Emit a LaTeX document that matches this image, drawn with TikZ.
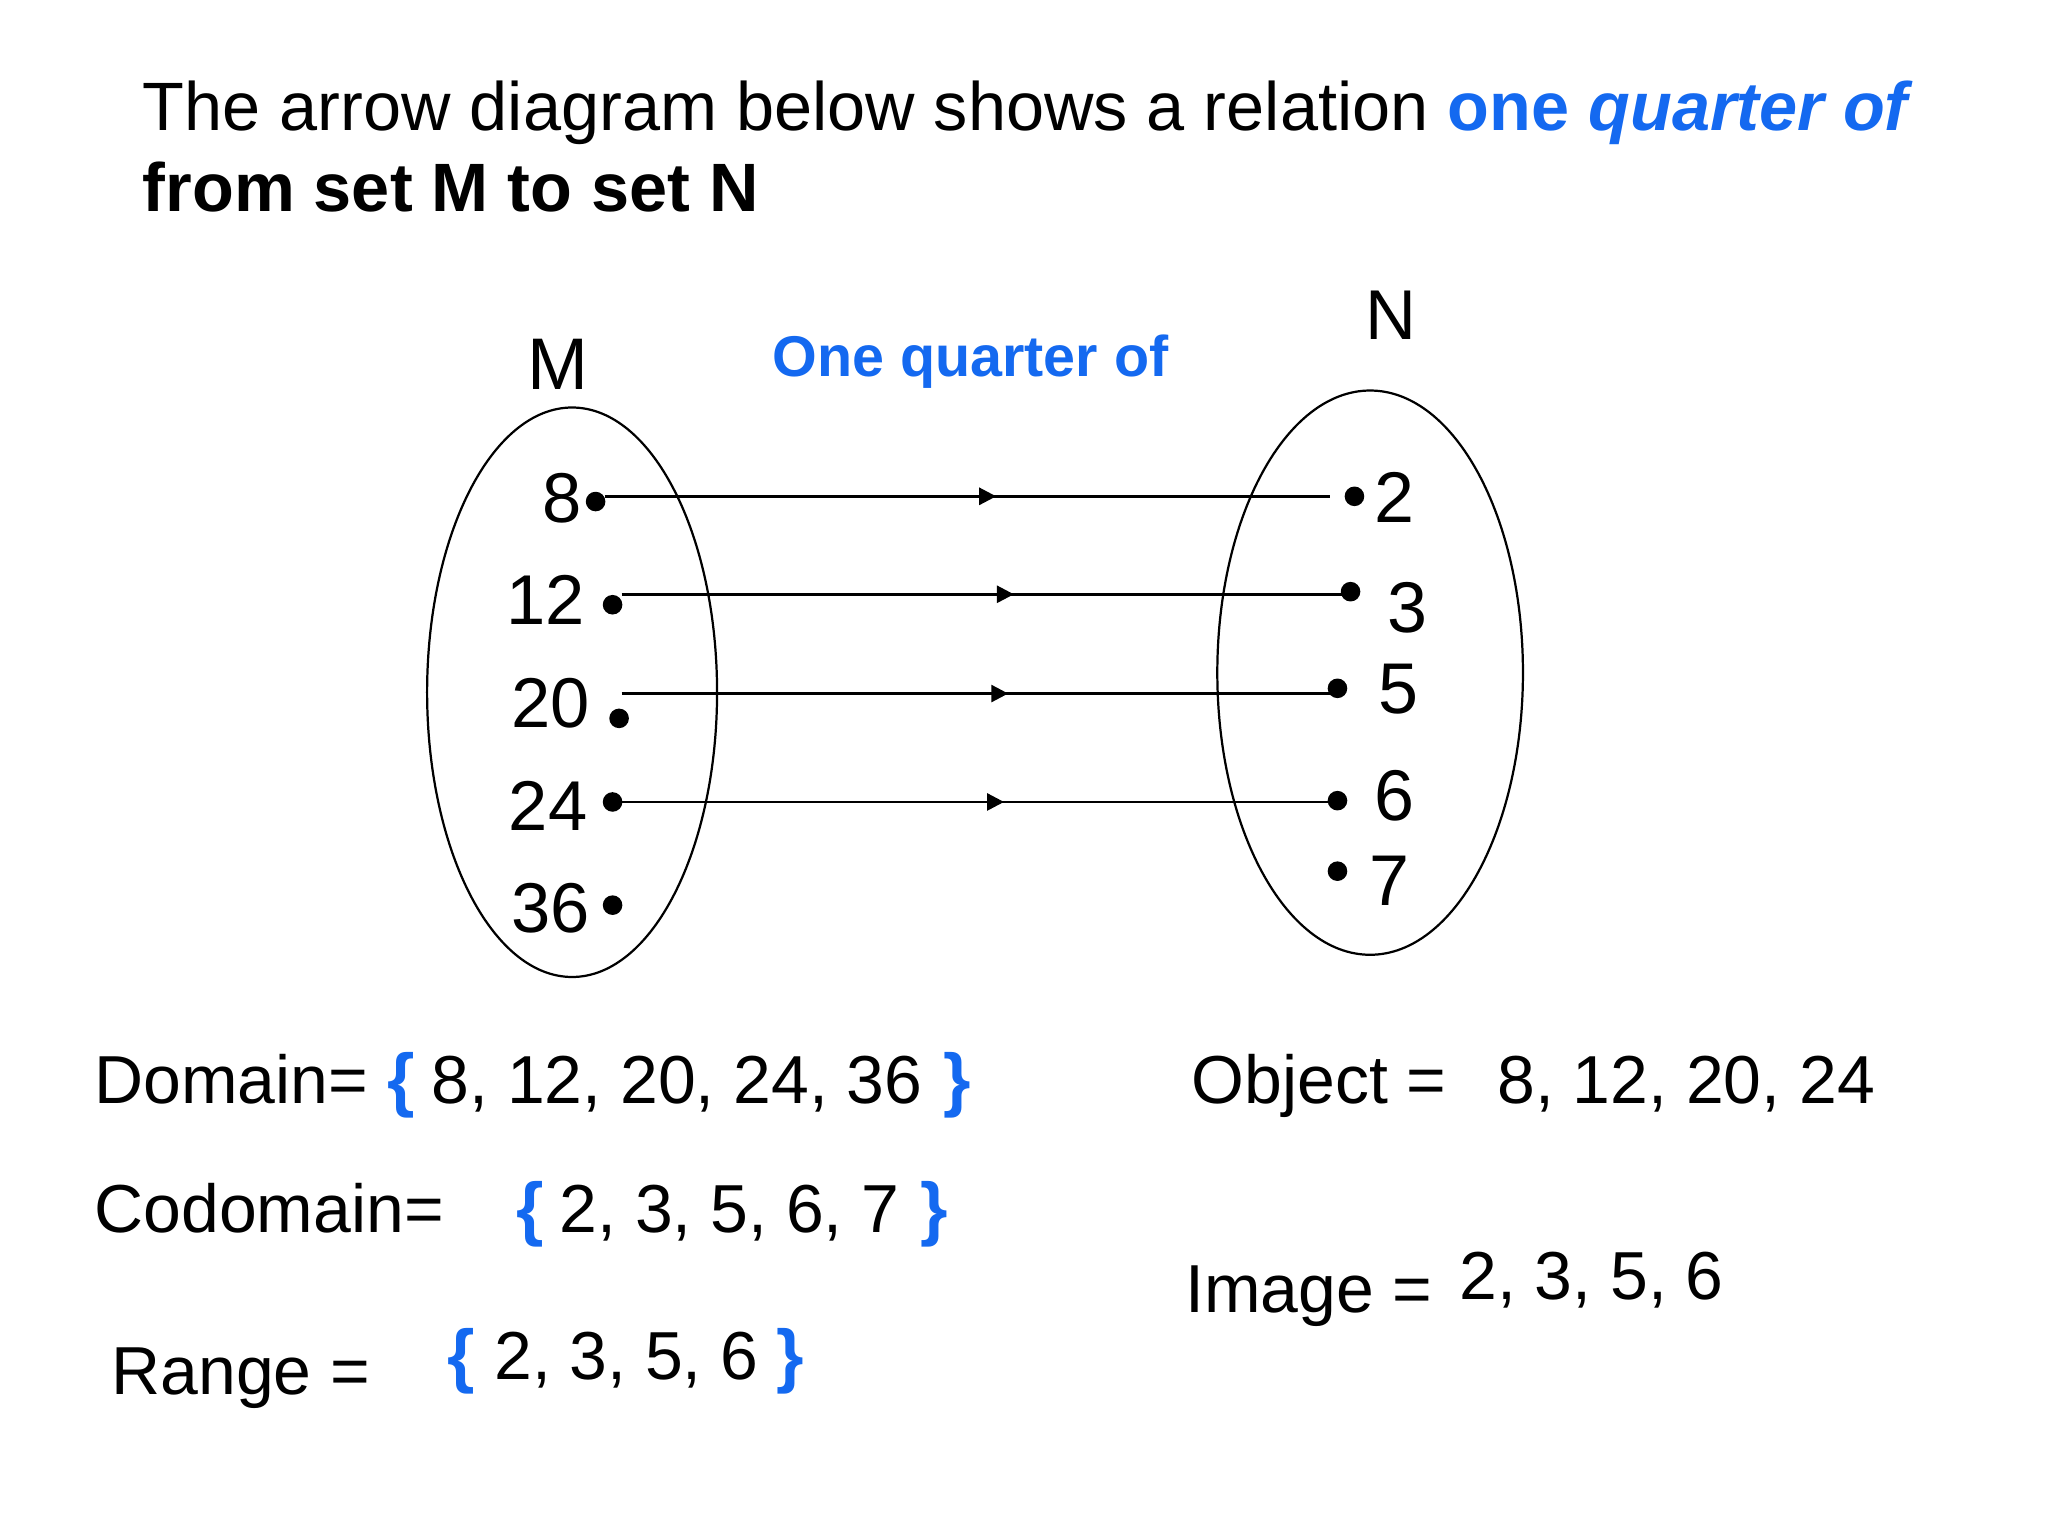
\documentclass[tikz,border=0pt]{standalone}
\usepackage{fontspec}
\setmainfont{Liberation Sans}
\usetikzlibrary{arrows.meta,decorations.markings}
\definecolor{qblue}{RGB}{20,105,240}
\begin{document}
\begin{tikzpicture}[x=0.5pt,y=-0.5pt,
  txt/.style={inner sep=0pt, anchor=base west, font=\fontsize{26}{32}\selectfont},
  numl/.style={inner sep=0pt, anchor=base east, font=\fontsize{27}{32}\selectfont},
  numr/.style={inner sep=0pt, anchor=base west, font=\fontsize{27.5}{32}\selectfont},
  brace/.style={inner sep=0pt, anchor=base west, text=qblue, font=\fontsize{27}{32}\selectfont\bfseries},
  dotn/.style={circle, fill=black, inner sep=0pt, minimum size=7.5pt},
  setell/.style={draw, line width=0.85pt},
  maparrow/.style={line width=1.1pt, postaction={decorate},
    decoration={markings, mark=at position 0.54 with {\arrow{Triangle[length=6.5pt,width=6.5pt]}}}}
]
\useasboundingbox (0,0) rectangle (1568,1176);
\fill[white] (0,0) rectangle (1568,1176);

% title
\node[txt, font=\fontsize{26.2}{32}\selectfont] (t1) at (109,100) {The arrow diagram below shows a relation \textcolor{qblue}{\bfseries one \itshape quarter of}};
\node[txt, font=\fontsize{26.2}{32}\selectfont\bfseries] (t2) at (109,162) {from set M to set N};

% set names
\node[inner sep=0pt, anchor=base, font=\fontsize{28}{32}\selectfont] (Mlab) at (427,298) {M};
\node[inner sep=0pt, anchor=base, font=\fontsize{27}{32}\selectfont] (Nlab) at (1065,260) {N};
\node[inner sep=0pt, anchor=base west, text=qblue, font=\fontsize{22}{28}\selectfont\bfseries] (rel) at (591,288) {One quarter of};

% ellipses
\draw[setell] (438,530) ellipse [x radius=55.5pt, y radius=109pt];
\draw[setell] (1049,515) ellipse [x radius=58.5pt, y radius=108pt];

% left elements
\node[numl] (l8) at (446,400) {8};
\node[numl] (l12) at (448,478) {12};
\node[numl] (l20) at (452,557) {20};
\node[numl] (l24) at (450,636) {24};
\node[numl] (l36) at (452,714) {36};
\node[dotn] (m8) at (456,384) {};
\node[dotn] (m12) at (469,463) {};
\node[dotn] (m20) at (474,550) {};
\node[dotn] (m24) at (469,614) {};
\node[dotn] (m36) at (469,693) {};

% right elements
\node[numr] (r2) at (1052,400) {2};
\node[numr] (r3) at (1062,484) {3};
\node[numr] (r5) at (1055,546) {5};
\node[numr] (r6) at (1052,628) {6};
\node[numr] (r7) at (1048,693) {7};
\node[dotn] (n2) at (1037,380) {};
\node[dotn] (n3) at (1034,453) {};
\node[dotn] (n5) at (1024,527) {};
\node[dotn] (n6) at (1024,613) {};
\node[dotn] (n7) at (1024,667) {};

% connectors
\coordinate (s1) at (463,380);
\coordinate (e1) at (1018,380);
\coordinate (s2) at (476,455);
\coordinate (e2) at (1032,455);
\coordinate (s3) at (476,531);
\coordinate (e3) at (1024,531);
\coordinate (s4) at (469,614);
\coordinate (e4) at (1024,614);
\draw[maparrow] (s1) -- (e1);
\draw[maparrow] (s2) -- (e2);
\draw[maparrow] (s3) -- (e3);
\draw[maparrow] (s4) -- (e4);

% bottom text
\node[txt] (dom) at (72,845) {Domain=};
\node[brace] (domo) at (296,845) {\{};
\node[txt] (domv) at (330,845) {8, 12, 20, 24, 36};
\node[brace] (domc) at (722,845) {\}};

\node[txt] (cod) at (72,944) {Codomain=};
\node[brace] (codo) at (395,944) {\{};
\node[txt] (codv) at (428,944) {2, 3, 5, 6, 7};
\node[brace] (codc) at (704,944) {\}};

\node[txt] (ran) at (85,1068) {Range =};
\node[brace] (rano) at (342,1056) {\{};
\node[txt] (ranv) at (378,1056) {2, 3, 5, 6};
\node[brace] (ranc) at (594,1056) {\}};

\node[txt] (obj) at (912,845) {Object =};
\node[txt] (objv) at (1146,845) {8, 12, 20, 24};

\node[txt] (img) at (907,1005) {Image =};
\node[txt] (imgv) at (1117,995) {2, 3, 5, 6};
\end{tikzpicture}
\end{document}
